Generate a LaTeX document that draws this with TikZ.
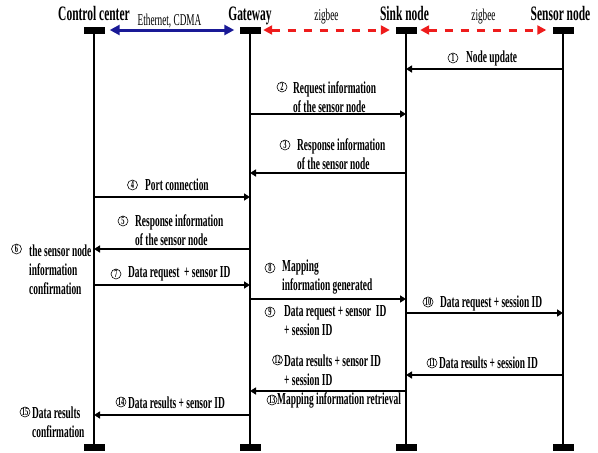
\documentclass[tikz,border=0pt]{standalone}
\usepackage{fontspec}
\setmainfont{Liberation Serif}[FakeStretch=0.56]
\usetikzlibrary{arrows.meta,positioning}

\definecolor{ethblue}{RGB}{25,25,150}
\definecolor{zigred}{RGB}{238,28,28}

\tikzset{
  lifebar/.style={fill=black, inner sep=0pt, minimum width=21pt, minimum height=7pt},
  lifeline/.style={line width=2pt},
  title/.style={font=\bfseries\fontsize{20.5}{22}\selectfont, anchor=base, inner sep=0pt},
  medium/.style={font=\fontsize{16.5}{18}\selectfont, anchor=base, inner sep=0pt},
  msg/.style={line width=2pt, -{Triangle[length=6pt,width=7pt]}},
  lbl/.style={font=\bfseries\fontsize{16.8}{19}\selectfont, align=left, anchor=west, inner sep=0pt},
  num/.style={circle, draw, line width=0.6pt, minimum size=10pt, inner sep=0pt, font=\bfseries\fontsize{11.5}{11.5}\selectfont},
  wire/.style={line width=3pt, ethblue, {Triangle[length=10pt,width=10pt]}-{Triangle[length=10pt,width=10pt]}},
  radio/.style={line width=3pt, zigred, dash pattern=on 8pt off 8pt, {Triangle[length=9pt,width=9pt]}-{Triangle[length=9pt,width=9pt]}}
}

\begin{document}
\begin{tikzpicture}[x=1pt, y=-1pt]
    \useasboundingbox (0,0) rectangle (598,453);

    % Define bars at the top and bottom of each lifeline
    \node[lifebar] (ccTop) at (94,30) {};
    \node[lifebar] (gwTop) at (250,30) {};
    \node[lifebar] (skTop) at (406,30) {};
    \node[lifebar] (snTop) at (563,30) {};
    \node[lifebar] (ccBot) at (94,447.5) {};
    \node[lifebar] (gwBot) at (250,447.5) {};
    \node[lifebar] (skBot) at (406,447.5) {};
    \node[lifebar] (snBot) at (563,447.5) {};

    % Names of the lifelines
    \node[title] (ccName) at (94,20) {Control center};
    \node[title] (gwName) at (250,20) {Gateway};
    \node[title] (skName) at (404.5,20) {Sink node};
    \node[title] (snName) at (560.5,20) {Sensor node};

    % Draw the lifelines
    \draw[lifeline] (ccTop) -- (ccBot);
    \draw[lifeline] (gwTop) -- (gwBot);
    \draw[lifeline] (skTop) -- (skBot);
    \draw[lifeline] (snTop) -- (snBot);

    % Links between the lifelines
    \draw[wire, shorten <=5pt, shorten >=5pt] (ccTop) -- (gwTop);
    \draw[radio, shorten <=2.5pt, shorten >=5.5pt] (gwTop) -- (skTop);
    \draw[radio, shorten <=3.5pt, shorten >=6pt] (skTop) -- (snTop);
    \node[medium] (ethLbl) at (169.5,25) {Ethernet, CDMA};
    \node[medium] (zbLeft) at (326.5,20) {zigbee};
    \node[medium] (zbRight) at (483.5,20) {zigbee};

    % Define levels of the messages
    \coordinate (m1) at (0,69);
    \coordinate (m2) at (0,114);
    \coordinate (m3) at (0,173);
    \coordinate (m4) at (0,197);
    \coordinate (m5) at (0,249);
    \coordinate (m7) at (0,285);
    \coordinate (m8) at (0,299);
    \coordinate (m10) at (0,313);
    \coordinate (m11) at (0,375);
    \coordinate (m12) at (0,391);
    \coordinate (m14) at (0,415);

    % Draw the messages
    \draw[msg] (snTop |- m1) -- (skTop |- m1);
    \draw[msg] (gwTop |- m2) -- (skTop |- m2);
    \draw[msg] (skTop |- m3) -- (gwTop |- m3);
    \draw[msg] (ccTop |- m4) -- (gwTop |- m4);
    \draw[msg] (gwTop |- m5) -- (ccTop |- m5);
    \draw[msg] (ccTop |- m7) -- (gwTop |- m7);
    \draw[msg] (gwTop |- m8) -- (skTop |- m8);
    \draw[msg] (skTop |- m10) -- (snTop |- m10);
    \draw[msg] (snTop |- m11) -- (skTop |- m11);
    \draw[msg] (skTop |- m12) -- (gwTop |- m12);
    \draw[msg] (gwTop |- m14) -- (ccTop |- m14);

    % Label the steps
    \node[num] (n1) at (453,58) {1};
    \node[lbl] (t1) at (466,58) {Node update};
    \node[num] (n2) at (282,87) {2};
    \node[lbl] (t2) at (293,97) {Request information\\of the sensor node};
    \node[num] (n3) at (285,145) {3};
    \node[lbl] (t3) at (297,154) {Response information\\of the sensor node};
    \node[num] (n4) at (132.5,185) {4};
    \node[lbl] (t4) at (145,185) {Port connection};
    \node[num] (n5) at (123,221) {5};
    \node[lbl] (t5) at (135,230) {Response information\\of the sensor node};
    \node[num] (n6) at (16.5,249) {6};
    \node[lbl] (t6) at (29,270) {the sensor node\\information\\confirmation};
    \node[num] (n7) at (116,274) {7};
    \node[lbl] (t7) at (128,274) {Data request\ \ + sensor ID};
    \node[num] (n8) at (270,268) {8};
    \node[lbl] (t8) at (282,277) {Mapping\\information generated};
    \node[num] (n9) at (270,312) {9};
    \node[lbl] (t9) at (284,321) {Data request + sensor\ \ ID\\+ session ID};
    \node[num] (n10) at (428,302) {10};
    \node[lbl] (t10) at (440,303) {Data request + session ID};
    \node[num] (n11) at (432,363) {11};
    \node[lbl] (t11) at (439,363) {Data results + session ID};
    \node[num] (n12) at (277.5,360) {12};
    \node[lbl] (t12) at (284,370) {Data results + sensor ID\\+ session ID};
    \node[num] (n13) at (272,400) {13};
    \node[lbl] (t13) at (277,400) {Mapping information retrieval};
    \node[num] (n14) at (121,402) {14};
    \node[lbl] (t14) at (128,403) {Data results + sensor ID};
    \node[num] (n15) at (25,412) {15};
    \node[lbl] (t15) at (32,422) {Data results\\confirmation};
\end{tikzpicture}
\end{document}
